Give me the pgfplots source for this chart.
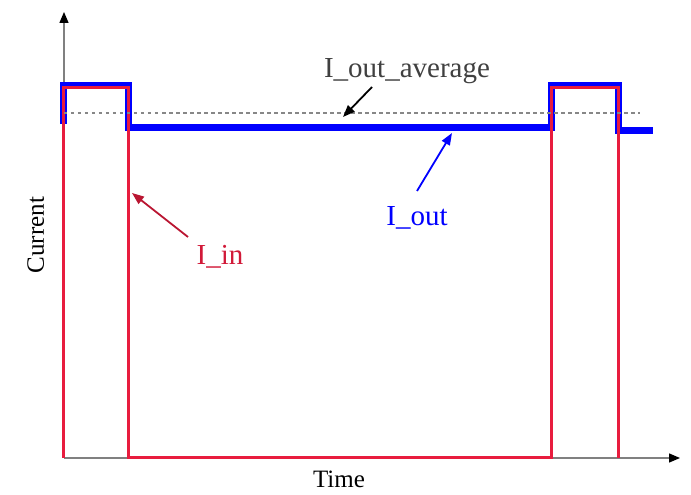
\documentclass[border=0pt]{standalone}
\usepackage{fontspec}
\setmainfont{Liberation Serif}
\usepackage{pgfplots}
\pgfplotsset{compat=1.18}
\usetikzlibrary{arrows.meta}
\definecolor{inred}{RGB}{232,28,62}
\definecolor{outblue}{RGB}{0,0,255}
\definecolor{avggray}{RGB}{135,135,135}
\begin{document}
\begin{tikzpicture}
\begin{axis}[
  x=1pt, y=1pt,
  xmin=0, xmax=616, ymin=0, ymax=446,
  axis lines=left,
  axis line style={draw=gray, line width=1.4pt, -{Triangle[black,length=11pt,width=9pt]}},
  ticks=none,
  clip=false,
]
% I_out (blue, drawn first)
\addplot[outblue, line width=7pt, line join=miter] coordinates {
  (0,334) (0,372) (65,372) (65,330) (487,330) (487,372) (554,372) (554,327) (589,327)
};
% I_in (red)
\addplot[inred, line width=3pt, line join=miter] coordinates {
  (0,0) (0,370) (65,370) (65,0) (487,0) (487,370) (554,370) (554,0)
};
% I_out_average
\addplot[avggray, line width=2.2pt, dash pattern=on 3.5pt off 3.5pt] coordinates {
  (0,345) (576,345)
};
% annotations
\node[anchor=base, text=black!75, font=\fontsize{29}{33}\selectfont] at (axis cs:343,380) {I\_out\_average};
\draw[black, line width=1.8pt, -{Triangle[length=12pt,width=9pt]}] (axis cs:308,371) -- (axis cs:279,341);
\node[anchor=base, text=outblue, font=\fontsize{29}{33}\selectfont] at (axis cs:353,232) {I\_out};
\draw[outblue, line width=1.8pt, -{Triangle[length=12pt,width=9pt]}] (axis cs:353,267) -- (axis cs:388,325);
\node[anchor=base, text=inred!90!black, font=\fontsize{29}{33}\selectfont] at (axis cs:156,193) {I\_in};
\draw[inred!80!black, line width=1.8pt, -{Triangle[length=12pt,width=9pt]}] (axis cs:124,221) -- (axis cs:68,265);
% axis labels
\node[anchor=base, font=\fontsize{25}{29}\selectfont] at (axis cs:275,-30) {Time};
\node[anchor=base, rotate=90, font=\fontsize{25}{29}\selectfont] at (axis cs:-20,223) {Current};
\path (axis cs:-64,-37) rectangle (axis cs:627,458);
\end{axis}
\end{tikzpicture}
\end{document}
